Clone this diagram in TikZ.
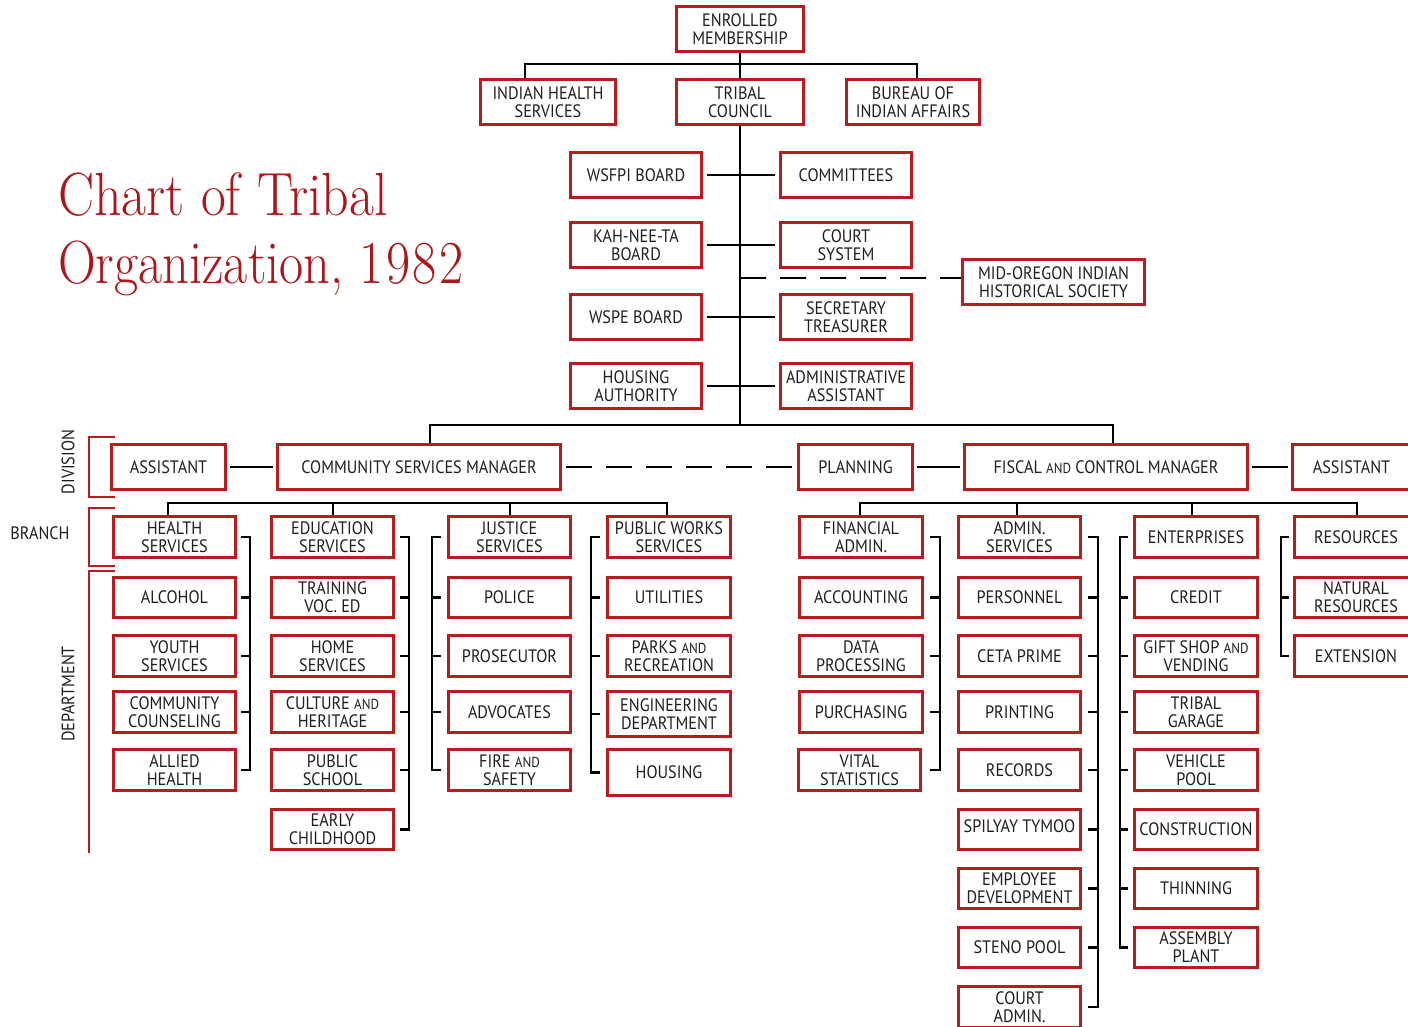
\documentclass[tikz,border=0pt]{standalone}
\usepackage{graphicx}
\usepackage{fontspec}
\newfontfamily\boxfont{PT Sans}[FakeStretch=0.9]
\usetikzlibrary{calc}
\definecolor{cred}{RGB}{185,28,30}
\definecolor{tred}{RGB}{170,22,26}
\definecolor{ink}{RGB}{30,30,30}
\tikzset{
 bx/.style={draw=cred,line width=3pt,fill=white,inner sep=0pt,align=center,
   font=\boxfont\fontsize{18}{18}\selectfont,text=ink},
 ln/.style={line width=2.4pt,black},
 dln/.style={ln,dash pattern=on 26pt off 14pt},
 rb/.style={line width=2.4pt,cred},
 lab/.style={font=\boxfont\fontsize{18}{18}\selectfont,text=ink,inner sep=0pt}
}
\newcommand\sand{{\fontsize{14.5}{18}\selectfont AND}}
\newcommand\mybox[6]{%
 \pgfmathsetmacro\bxcx{(#2+#4)/2}%
 \pgfmathsetmacro\bxcy{(#3+#5)/2}%
 \pgfmathsetmacro\bxw{#4-#2-3}%
 \pgfmathsetmacro\bxh{#5-#3-3}%
 \node[bx,minimum width=\bxw pt,minimum height=\bxh pt] (#1) at (\bxcx,\bxcy) {#6};}
\begin{document}
\begin{tikzpicture}[x=1pt,y=-1pt]
\useasboundingbox (0,0) rectangle (1408,1027);
\fill[white] (0,0) rectangle (1408,1027);

% title
\node[anchor=base west,inner sep=0pt,text=tred,font=\fontsize{61}{61}\selectfont] (t1) at (58,216) {\scalebox{0.885}[1]{Chart of Tribal}};
\node[anchor=base west,inner sep=0pt,text=tred,font=\fontsize{61}{61}\selectfont] (t2) at (58,283) {\scalebox{0.86}[1]{Organization, 1\kern3pt9\kern3pt8\kern3pt2}};

% top
\mybox{em}{675}{5}{805}{53}{ENROLLED\\MEMBERSHIP}
\mybox{ihs}{479}{78}{617}{126}{INDIAN HEALTH\\SERVICES}
\mybox{tc}{675}{78}{805}{126}{TRIBAL\\COUNCIL}
\mybox{bia}{845}{78}{981}{126}{BUREAU OF\\INDIAN AFFAIRS}

% boards
\mybox{wsfpi}{569}{151}{703}{199}{WSFPI BOARD}
\mybox{comm}{779}{151}{913}{199}{COMMITTEES}
\mybox{kah}{569}{221}{703}{269}{KAH-NEE-TA\\BOARD}
\mybox{court}{779}{221}{913}{269}{COURT\\SYSTEM}
\mybox{mid}{961}{258}{1146}{306}{MID-OREGON INDIAN\\HISTORICAL SOCIETY}
\mybox{wspe}{569}{293}{703}{341}{WSPE BOARD}
\mybox{sec}{779}{293}{913}{341}{SECRETARY\\TREASURER}
\mybox{ha}{569}{362}{703}{410}{HOUSING\\AUTHORITY}
\mybox{aa}{779}{362}{913}{410}{ADMINISTRATIVE\\ASSISTANT}

% division
\mybox{asl}{110}{443}{227}{491}{ASSISTANT}
\mybox{csm}{276}{443}{562}{491}{COMMUNITY SERVICES MANAGER}
\mybox{plan}{797}{443}{914}{491}{PLANNING}
\mybox{fcm}{963}{443}{1249}{491}{FISCAL \sand{} CONTROL MANAGER}
\mybox{asr}{1291}{443}{1412}{491}{ASSISTANT}

% column 1
\mybox{hs}{112}{515}{237}{559}{HEALTH\\SERVICES}
\mybox{alc}{112}{576}{237}{619}{ALCOHOL}
\mybox{ys}{112}{634}{237}{678}{YOUTH\\SERVICES}
\mybox{cc}{112}{690}{237}{734}{COMMUNITY\\COUNSELING}
\mybox{ah}{112}{748}{237}{792}{ALLIED\\HEALTH}
% column 2
\mybox{edu}{270}{515}{395}{559}{EDUCATION\\SERVICES}
\mybox{tr}{270}{576}{395}{619}{TRAINING\\VOC. ED}
\mybox{home}{270}{634}{395}{678}{HOME\\SERVICES}
\mybox{cult}{270}{690}{395}{734}{CULTURE \sand\\HERITAGE}
\mybox{pub}{270}{748}{395}{792}{PUBLIC\\SCHOOL}
\mybox{early}{270}{808}{395}{851}{EARLY\\CHILDHOOD}
% column 3
\mybox{js}{447}{515}{572}{559}{JUSTICE\\SERVICES}
\mybox{pol}{447}{576}{572}{619}{POLICE}
\mybox{pros}{447}{634}{572}{678}{PROSECUTOR}
\mybox{adv}{447}{690}{572}{734}{ADVOCATES}
\mybox{fire}{447}{748}{572}{792}{FIRE \sand\\SAFETY}
% column 4
\mybox{pw}{606}{515}{732}{559}{PUBLIC WORKS\\SERVICES}
\mybox{util}{606}{576}{732}{619}{UTILITIES}
\mybox{parks}{606}{634}{732}{678}{PARKS \sand\\RECREATION}
\mybox{eng}{606}{690}{732}{738}{ENGINEERING\\DEPARTMENT}
\mybox{hous}{606}{748}{732}{797}{HOUSING}
% column 5
\mybox{fa}{798}{515}{924}{559}{FINANCIAL\\ADMIN.}
\mybox{acc}{798}{576}{924}{619}{ACCOUNTING}
\mybox{dp}{798}{634}{924}{678}{DATA\\PROCESSING}
\mybox{pur}{798}{690}{924}{734}{PURCHASING}
\mybox{vs}{797}{748}{922}{792}{VITAL\\STATISTICS}
% column 6
\mybox{ads}{957}{515}{1082}{559}{ADMIN.\\SERVICES}
\mybox{pers}{957}{576}{1082}{619}{PERSONNEL}
\mybox{ceta}{957}{634}{1082}{678}{CETA PRIME}
\mybox{print}{957}{690}{1082}{734}{PRINTING}
\mybox{rec}{957}{748}{1082}{792}{RECORDS}
\mybox{spil}{957}{808}{1082}{851}{\raisebox{7pt}{SPILYAY TYMOO}}
\mybox{emp}{957}{867}{1082}{910}{EMPLOYEE\\DEVELOPMENT}
\mybox{steno}{957}{926}{1082}{969}{STENO POOL}
\mybox{cadm}{957}{985}{1082}{1029}{COURT\\ADMIN.}
% column 7
\mybox{ent}{1133}{515}{1259}{559}{ENTERPRISES}
\mybox{cred}{1133}{576}{1259}{619}{CREDIT}
\mybox{gift}{1133}{634}{1259}{678}{GIFT SHOP \sand\\VENDING}
\mybox{tg}{1133}{690}{1259}{734}{TRIBAL\\GARAGE}
\mybox{vp}{1133}{748}{1259}{792}{VEHICLE\\POOL}
\mybox{cons}{1133}{808}{1259}{851}{CONSTRUCTION}
\mybox{thin}{1133}{867}{1259}{910}{THINNING}
\mybox{asm}{1133}{926}{1259}{969}{ASSEMBLY\\PLANT}
% column 8
\mybox{res}{1293}{515}{1419}{559}{RESOURCES}
\mybox{nat}{1293}{576}{1419}{619}{NATURAL\\RESOURCES}
\mybox{ext}{1293}{634}{1419}{678}{EXTENSION}

% top connectors
\draw[ln] (em) -- (tc);
\draw[ln] (ihs.north -| 525,0) -- (525,64) -- (917,64) -- (bia.north -| 917,0);
\coordinate (bus) at (740,425);
\draw[ln] (tc.south) -- (bus);
\foreach \a/\b in {wsfpi/comm,kah/court,wspe/sec,ha/aa}
  \draw[ln,shorten <=4pt,shorten >=4pt] (\a.east) -- (\a.east -| \b.west);
\draw[dln] (740,278) -- (mid.west |- 740,278);
\draw[ln] (csm.north -| 430,0) |- (bus) -| (fcm.north -| 1113,0);

% division connectors
\draw[ln,shorten <=3pt,shorten >=3pt] (asl) -- (csm);
\draw[dln,shorten <=4pt,shorten >=4pt] (csm) -- (plan);
\draw[ln,shorten <=3pt,shorten >=3pt] (plan) -- (fcm);
\draw[ln,shorten <=3pt,shorten >=3pt] (fcm) -- (asr);

% branch buses
\draw[ln] (hs.north -| 168,0) -- (168,503) -- (667,503) -- (pw.north -| 667,0);
\draw[ln] (edu.north -| 333,0) -- (333,503);
\draw[ln] (js.north -| 510,0) -- (510,503);
\draw[ln] (fa.north -| 860,0) -- (860,503) -- (1357,503) -- (res.north -| 1357,0);
\draw[ln] (ads.north -| 1017,0) -- (1017,503);
\draw[ln] (ent.north -| 1192,0) -- (1192,503);

% brackets right side
\draw[ln] (hs.east -| 241,0) -| (ah.east -| 250,0) -- (ah.east -| 241,0);
\foreach \n in {alc,ys,cc} \draw[ln] (\n.east -| 241,0) -- (\n.east -| 250,0);
\draw[ln] (edu.east -| 400,0) -| (early.east -| 409,0) -- (early.east -| 400,0);
\foreach \n in {tr,home,cult,pub} \draw[ln] (\n.east -| 400,0) -- (\n.east -| 409,0);
\draw[ln] (fa.east -| 930,0) -| (vs.east -| 940,0) -- (vs.east -| 930,0);
\foreach \n in {acc,dp,pur} \draw[ln] (\n.east -| 930,0) -- (\n.east -| 940,0);
\draw[ln] (ads.east -| 1088,0) -| (cadm.east -| 1098,0) -- (cadm.east -| 1088,0);
\foreach \n in {pers,ceta,print,rec,spil,emp,steno} \draw[ln] (\n.east -| 1088,0) -- (\n.east -| 1098,0);
% brackets left side
\draw[ln] (js.west -| 441,0) -| (fire.west -| 432,0) -- (fire.west -| 441,0);
\foreach \n in {pol,pros,adv} \draw[ln] (\n.west -| 441,0) -- (\n.west -| 432,0);
\draw[ln] (pw.west -| 600,0) -| (hous.west -| 591,0) -- (hous.west -| 600,0);
\foreach \n in {util,parks,eng} \draw[ln] (\n.west -| 600,0) -- (\n.west -| 591,0);
\draw[ln] (ent.west -| 1128,0) -| (asm.west -| 1120,0) -- (asm.west -| 1128,0);
\foreach \n in {cred,gift,tg,vp,cons,thin} \draw[ln] (\n.west -| 1128,0) -- (\n.west -| 1120,0);
\draw[ln] (res.west -| 1289,0) -| (ext.west -| 1281,0) -- (ext.west -| 1289,0);
\draw[ln] (nat.west -| 1289,0) -- (nat.west -| 1281,0);

% level labels
\node[lab,rotate=90] (ldiv) at (68,462) {DIVISION};
\node[lab] (lbr) at (40,533) {BRANCH};
\node[lab,rotate=90] (ldep) at (68,694) {DEPARTMENT};
\draw[rb] (115,437) -- (89,437) -- (89,497) -- (115,497);
\draw[rb] (115,508) -- (89,508) -- (89,566) -- (115,566);
\draw[rb] (115,571) -- (89,571) -- (89,853);
\end{tikzpicture}
\end{document}
